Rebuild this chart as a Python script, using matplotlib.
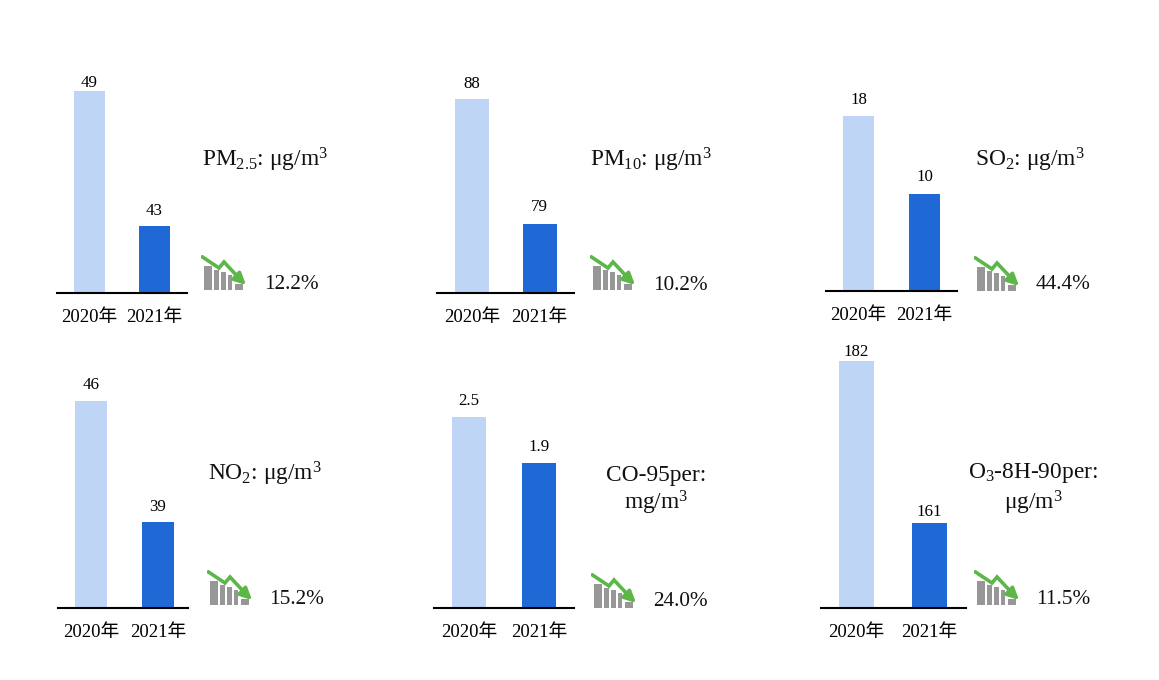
import matplotlib
matplotlib.use("Agg")
import matplotlib.pyplot as plt
from matplotlib.patches import Rectangle

plt.rcParams['font.family'] = ['Liberation Serif', 'Noto Sans CJK SC']
plt.rcParams['mathtext.fontset'] = 'custom'
plt.rcParams['mathtext.rm'] = 'Liberation Serif'
plt.rcParams['mathtext.it'] = 'Liberation Serif'

# data
years = ["2020年", "2021年"]
pm25 = [49, 43]
pm10 = [88, 79]
so2 = [18, 10]
no2 = [46, 39]
co = [2.5, 1.9]
o3 = [182, 161]
series = [pm25, pm10, so2, no2, co, o3]
value_labels = [["49", "43"], ["88", "79"], ["18", "10"], ["46", "39"], ["2.5", "1.9"], ["182", "161"]]
# the original y axes are truncated
y_floor = [40, 74, 0, 34, 0, 150]
names = [
    "PM$_{2.5}$: μg/m$^{3}$",
    "PM$_{10}$: μg/m$^{3}$",
    "SO$_{2}$: μg/m$^{3}$",
    "NO$_{2}$: μg/m$^{3}$",
    "CO-95per:\nmg/m$^{3}$",
    "O$_{3}$-8H-90per:\nμg/m$^{3}$",
]
changes = ["12.2%", "10.2%", "44.4%", "15.2%", "24.0%", "11.5%"]

LIGHT = "#BFD5F5"
DARK = "#1F69D6"
GREEN = "#5CB648"
GREY = "#979797"

W, H = 1159, 680

# layout in pixels: axis x0, x1, baseline y, top of first bar, bar centres, bar width
panels = [
    (57, 187, 293, 91, 89.5, 154.5, 31),
    (437, 574, 293, 99, 472, 539.5, 34),
    (826, 957, 291, 116, 858.5, 924.5, 31),
    (58, 188, 608, 401, 91, 158, 32),
    (434, 574, 608, 417, 469, 539, 34),
    (821, 966, 608, 361, 856.5, 929.5, 35),
]
# label pad above each bar, points
label_pads = [(0, 4.5), (5, 6.5), (6, 6), (6, 5), (6, 6), (0.5, 2)]
name_pos = [(265, 160), (651, 160), (1030, 160), (265, 474), (656, 491), (1033, 489)]
change_pos = [(291, 284), (680, 285), (1063, 284), (297, 599), (680, 601), (1063, 599)]
icon_pos = [(201, 255), (590, 255), (974, 256), (207, 570), (591, 573), (974, 570)]

# icon shape, px relative to its top left corner
icon_bars = [(3, 11, 8), (13, 15, 5), (20, 17, 5), (27, 20, 4), (34, 29, 8)]
icon_line_x = [0, 18, 23, 38]
icon_line_y = [1, 13, 7, 23]


def px_axes(fig, x0, x1, y_bottom, y_top):
    return fig.add_axes([x0 / W, 1 - y_bottom / H, (x1 - x0) / W, (y_bottom - y_top) / H])


def draw_icon(fig, left, top):
    ax = px_axes(fig, left, left + 46, top + 36, top)
    ax.set_xlim(0, 46)
    ax.set_ylim(36, 0)
    ax.axis("off")
    for bx, by, bw in icon_bars:
        ax.add_patch(Rectangle((bx, by), bw, 35 - by, color=GREY, lw=0))
    ax.plot(icon_line_x, icon_line_y, color=GREEN, lw=2.6, solid_capstyle="butt", solid_joinstyle="miter")
    ax.annotate("", xy=(45, 30), xytext=(35, 20.5),
                arrowprops=dict(arrowstyle="-|>", color=GREEN, lw=2.6, mutation_scale=17, shrinkA=0, shrinkB=0))


fig = plt.figure(figsize=(W / 100, H / 100), dpi=100, facecolor="white")

for i, (x0, x1, base, top, c0, c1, bw) in enumerate(panels):
    ax = px_axes(fig, x0, x1, base, top)
    unit = c1 - c0
    bars = ax.bar([0, 1], series[i], width=bw / unit, color=[LIGHT, DARK])
    ax.set_xlim((x0 - c0) / unit, (x1 - c0) / unit)
    ax.set_ylim(y_floor[i], series[i][0])
    ax.set_xticks([0, 1], years, fontsize=13.5)
    ax.set_yticks([])
    ax.tick_params(axis="x", length=0, pad=11.5)
    for side in ("top", "left", "right"):
        ax.spines[side].set_visible(False)
    ax.spines["bottom"].set_linewidth(1.5)
    ax.spines["bottom"].set_color("black")
    for j in range(2):
        ax.annotate(value_labels[i][j], (j, series[i][j]), xytext=(0, label_pads[i][j]),
                    textcoords="offset points", ha="center", va="bottom",
                    fontsize=12.2, color="black", annotation_clip=False)

    nx, ny = name_pos[i]
    fig.text(nx / W, 1 - ny / H, names[i], fontsize=16.8, ha="center", va="center", linespacing=1.15, color="#111111")
    cx, cy = change_pos[i]
    fig.text(cx / W, 1 - cy / H, changes[i], fontsize=15.3, ha="center", va="center", color="#111111")
    draw_icon(fig, *icon_pos[i])

fig.savefig("out.png", dpi=100, facecolor="white")
